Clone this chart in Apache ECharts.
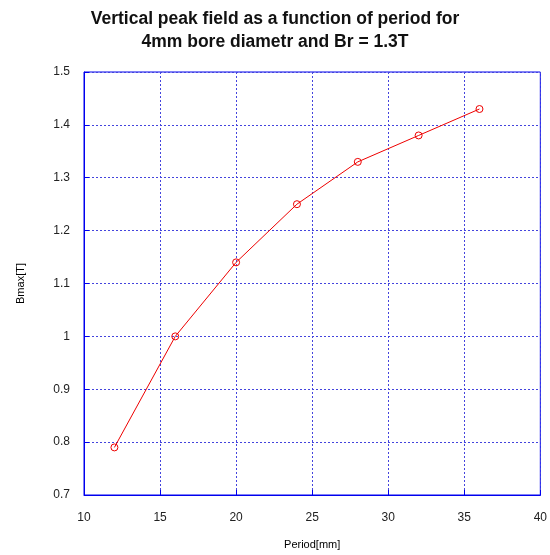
<!DOCTYPE html>
<html>
<head>
<meta charset="utf-8">
<script src="https://cdn.jsdelivr.net/npm/echarts@6/dist/echarts.min.js"></script>
<style>
  html, body { margin: 0; padding: 0; background: #fff; }
  #chart { width: 550px; height: 555px; }
</style>
</head>
<body>
<div id="chart"></div>
<script>
// period [mm] vs vertical peak field [T]
var periods = [12, 16, 20, 24, 28, 32, 36];
var bmax = [0.79, 1.0, 1.14, 1.25, 1.33, 1.38, 1.43];

var chart = echarts.init(document.getElementById('chart'));
var blue = '#0000ee';
var gridBlue = '#4444dd';
var font = 'Liberation Sans, Arial, sans-serif';

chart.setOption({
    animation: false,
    backgroundColor: '#fff',
    title: {
        text: 'Vertical peak field as a function of period for\n4mm bore diametr and Br = 1.3T',
        left: 'center',
        top: 3,
        textStyle: {
            fontFamily: font,
            fontSize: 17.5,
            fontWeight: 'bold',
            color: '#111',
            lineHeight: 23
        }
    },
    grid: { left: 84, top: 72, width: 458, height: 426, show: true, borderColor: blue, borderWidth: 1 },
    xAxis: {
        type: 'value',
        min: 10, max: 40, interval: 5,
        name: 'Period[mm]',
        nameLocation: 'middle',
        nameGap: 44,
        nameTextStyle: { fontFamily: font, fontSize: 11, color: '#000' },
        axisLine: { lineStyle: { color: blue } },
        axisTick: { inside: true, length: 5, lineStyle: { color: blue } },
        axisLabel: { fontFamily: font, fontSize: 12, color: '#222', margin: 17 },
        splitLine: { show: true, lineStyle: { color: gridBlue, type: [2, 2], width: 1 } }
    },
    yAxis: {
        type: 'value',
        min: 0.7, max: 1.5, interval: 0.1,
        name: 'Bmax[T]',
        nameLocation: 'middle',
        nameGap: 58,
        nameTextStyle: { fontFamily: font, fontSize: 11, color: '#000' },
        axisLine: { lineStyle: { color: blue } },
        axisTick: { inside: true, length: 5, lineStyle: { color: blue } },
        axisLabel: {
            fontFamily: font, fontSize: 12, color: '#222', margin: 14,
            formatter: function (v) { return String(Math.round(v * 10) / 10); }
        },
        splitLine: { show: true, lineStyle: { color: gridBlue, type: [2, 2], width: 1 } }
    },
    series: [{
        type: 'line',
        data: periods.map(function (p, i) { return [p, bmax[i]]; }),
        symbol: 'circle',
        symbolSize: 7,
        itemStyle: { color: 'rgba(255,255,255,0)', borderColor: '#ee0000', borderWidth: 1 },
        lineStyle: { color: '#ee0000', width: 1 }
    }]
});
</script>
</body>
</html>
